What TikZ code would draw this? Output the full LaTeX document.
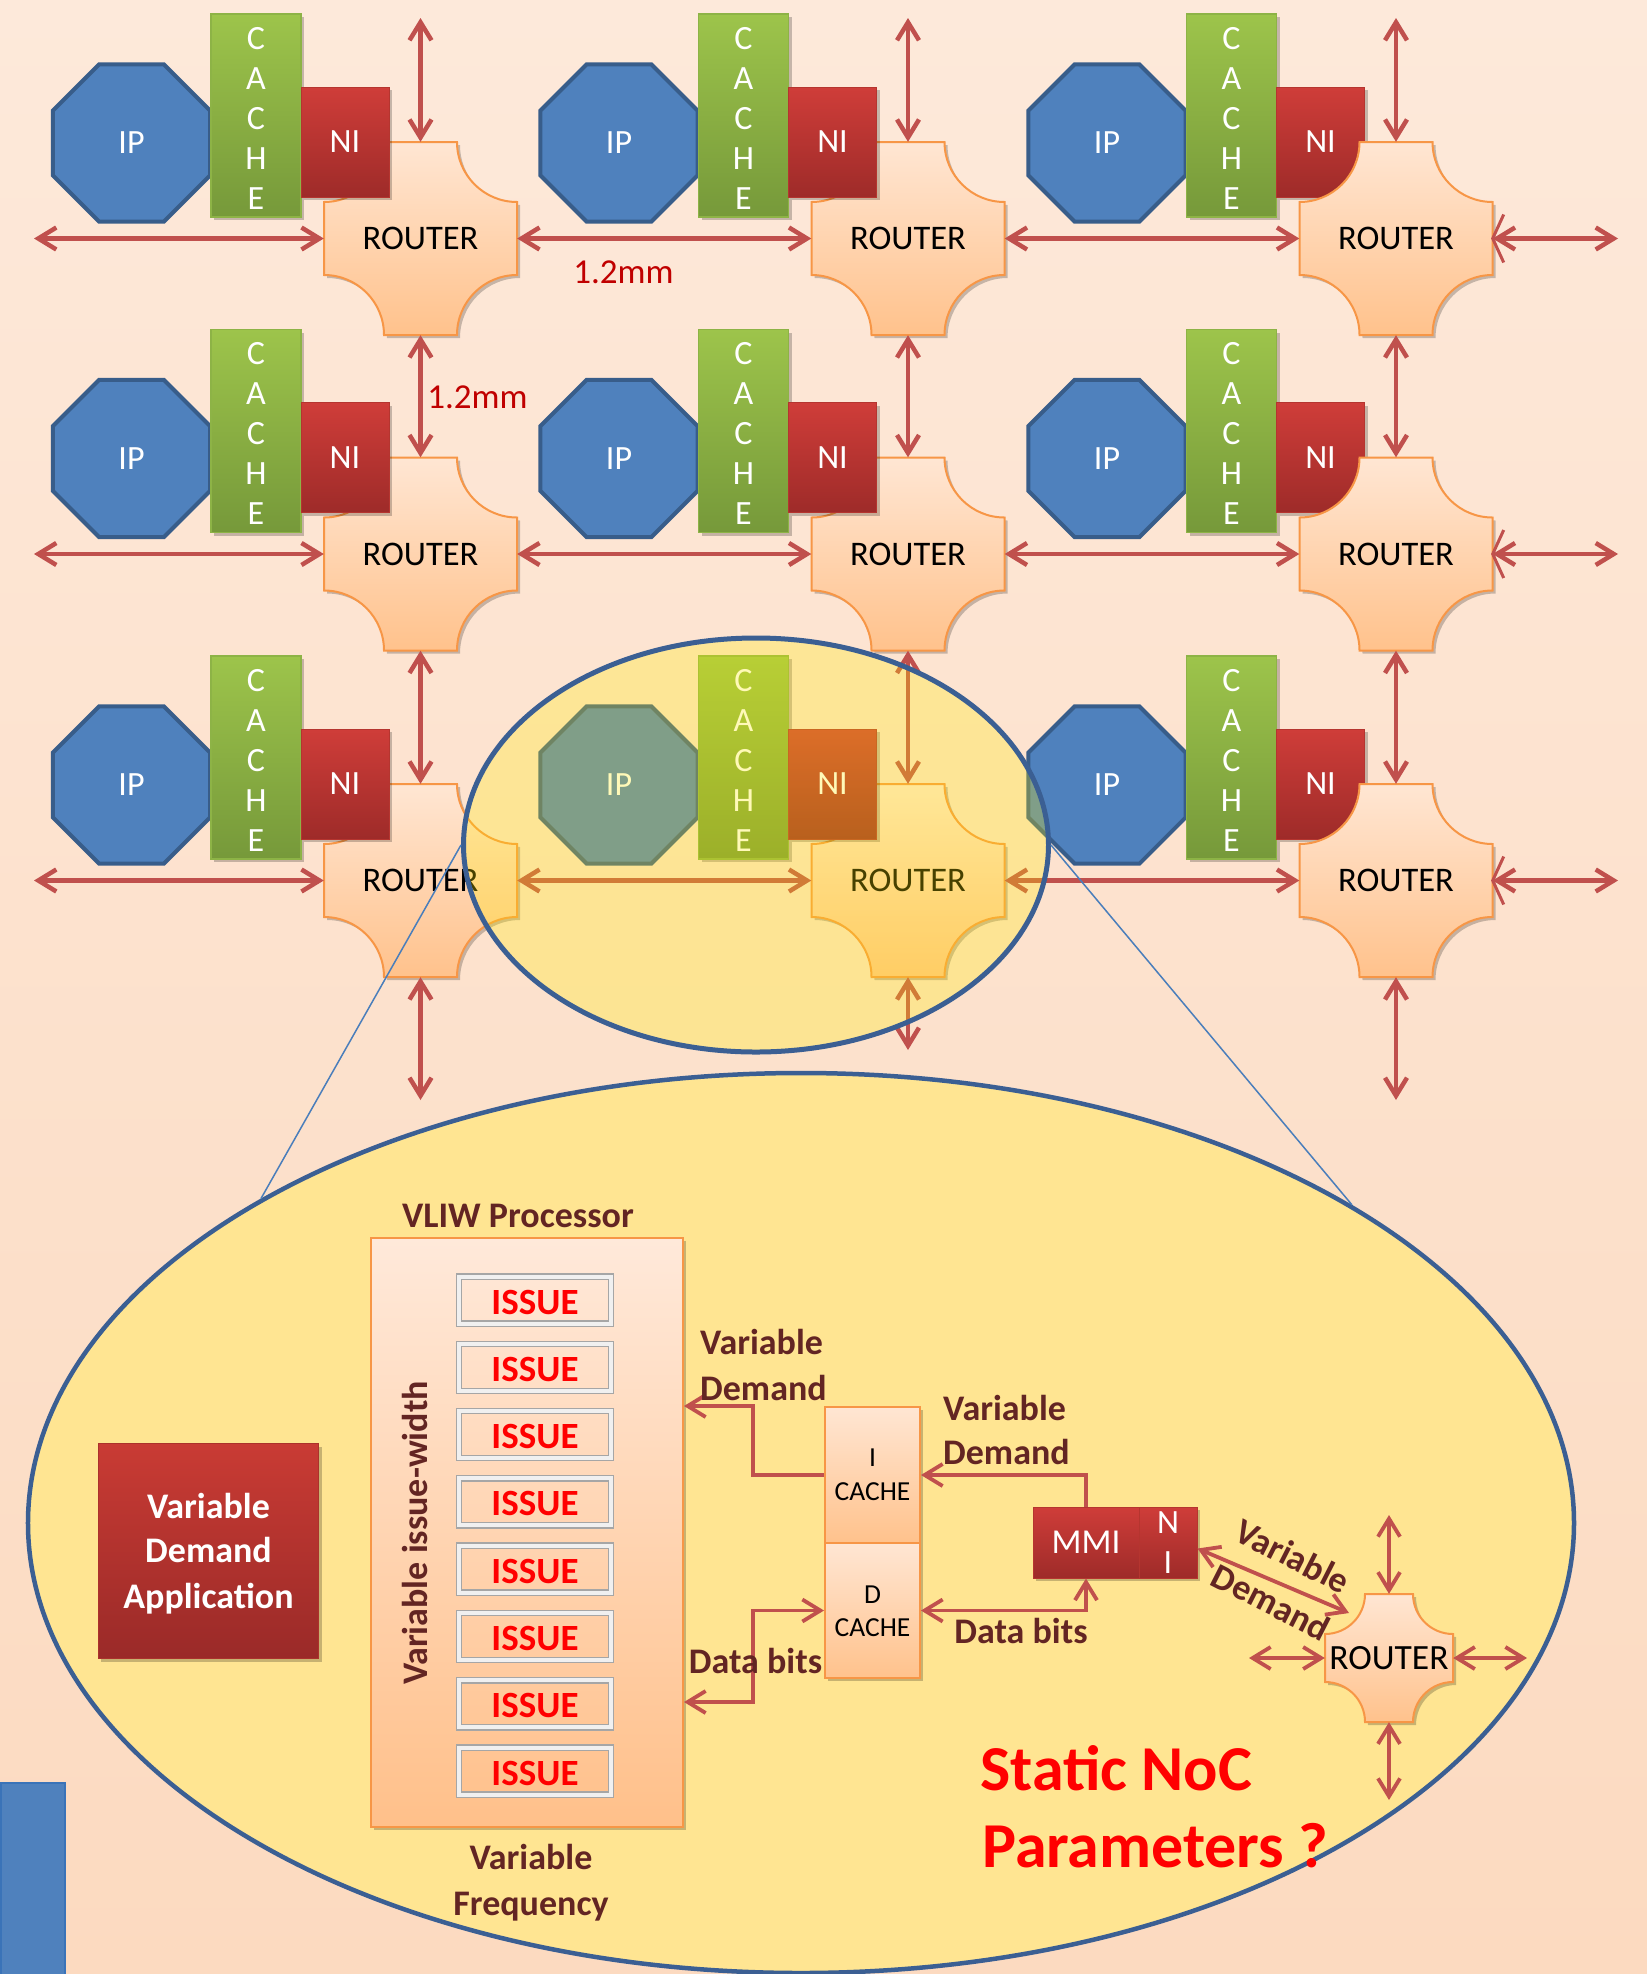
\documentclass[tikz,border=0pt]{standalone}
\usepackage{fontspec}
\setmainfont{Carlito}
\usetikzlibrary{arrows.meta,shadows,calc,shapes.geometric}
\definecolor{bgtop}{HTML}{FDE9DA}
\definecolor{bgbot}{HTML}{FCDAC0}
\definecolor{arr}{HTML}{C0504D}
\definecolor{ipfill}{HTML}{4F81BD}
\definecolor{ipline}{HTML}{385D8A}
\definecolor{cachetop}{HTML}{9DC44B}
\definecolor{cachebot}{HTML}{76993A}
\definecolor{cacheline}{HTML}{8DB346}
\definecolor{nitop}{HTML}{CF3D39}
\definecolor{nibot}{HTML}{9E2B29}
\definecolor{niline}{HTML}{B5352F}
\definecolor{rtop}{HTML}{FFE6D3}
\definecolor{rbot}{HTML}{FFC28C}
\definecolor{rline}{HTML}{F79646}
\definecolor{vtop}{HTML}{FFE9DA}
\definecolor{vbot}{HTML}{FFC08A}
\definecolor{ellline}{HTML}{3B5F93}
\definecolor{ellfill}{RGB}{255,236,0}
\definecolor{bigfill}{HTML}{FFE592}
\definecolor{brownc}{HTML}{632523}
\definecolor{mmred}{HTML}{C00000}
\definecolor{zline}{HTML}{4A7EBB}
\definecolor{apptop}{HTML}{C93B34}
\definecolor{appbot}{HTML}{9A2A28}
\definecolor{bluebox}{HTML}{4F81BD}
\definecolor{blueline}{HTML}{3A73B8}
\newcommand\fsz[2]{\fontsize{#1bp}{#2bp}\selectfont}
\newcommand\drawrouter[5]{%
  \pgfmathsetmacro\rA{#4-#5}\pgfmathsetmacro\rK{0.5523*#5}%
  \path[#1] (#2-\rA,#3-#4) -- (#2+\rA,#3-#4)
   .. controls (#2+\rA,#3-#4+\rK) and (#2+#4-\rK,#3-\rA) .. (#2+#4,#3-\rA)
   -- (#2+#4,#3+\rA)
   .. controls (#2+#4-\rK,#3+\rA) and (#2+\rA,#3+#4-\rK) .. (#2+\rA,#3+#4)
   -- (#2-\rA,#3+#4)
   .. controls (#2-\rA,#3+#4-\rK) and (#2-#4+\rK,#3+\rA) .. (#2-#4,#3+\rA)
   -- (#2-#4,#3-\rA)
   .. controls (#2-#4+\rK,#3-\rA) and (#2-\rA,#3-#4+\rK) .. cycle;}
\tikzset{
  bb/.tip={Straight Barb[length=18bp,width=22bp]},
  link/.style={draw=arr,line width=4.5bp,bb-bb},
  flow/.style={draw=arr,line width=3.8bp},
  sh/.style={drop shadow={shadow xshift=3bp,shadow yshift=-3bp,opacity=0.22,fill=black}},
  ipoct/.style={fill=ipfill,draw=ipline,line width=4bp,line join=miter},
  wtext/.style={text=white,font=\fsz{34}{40},inner sep=0pt},
  cachebox/.style={top color=cachetop,bottom color=cachebot,draw=cacheline,line width=1.5bp,minimum width=90bp,minimum height=203bp,inner sep=0pt,sh},
  nibox/.style={top color=nitop,bottom color=nibot,draw=niline,line width=1bp,minimum width=88bp,minimum height=110bp,inner sep=0pt,sh},
  rshape/.style={draw=rline,line width=2bp,top color=rtop,bottom color=rbot,sh},
  rbox/.style={inner sep=0pt,minimum width=193bp,minimum height=193bp},
  rtext/.style={font=\fsz{34.5}{40},inner sep=0pt},
  lblb/.style={font=\bfseries\fsz{36}{44},text=brownc,inner sep=0pt},
  issuebox/.style={draw=black!35,line width=1.3bp,double=black!6,double distance=4bp,minimum width=152bp,minimum height=47bp,inner sep=0pt},
  issuetext/.style={font=\bfseries\fsz{37}{40},inner sep=0pt},
  cbox/.style={draw=rline,line width=2bp,top color=rtop,bottom color=rbot,minimum width=95bp,inner sep=0pt,sh},
  mbox/.style={top color=nitop,bottom color=nibot,draw=niline,line width=1bp,inner sep=0pt,minimum height=71bp,sh},
  ctext/.style={font=\fsz{27.5}{34},inner sep=0pt},
}
\begin{document}
\begin{tikzpicture}[x=1bp,y=-1bp]
\useasboundingbox (0,0) rectangle (1647,1974);
\path[top color=bgtop,bottom color=bgbot] (0,0) rectangle (1647,1974);

% ---------- mesh tiles ----------
\foreach \c/\X in {1/420.5,2/908,3/1396}{
 \foreach \r/\Y in {1/238.5,2/554,3/880.5}{
  \begin{scope}[shift={(\X-289,\Y-95.5)}]
   \draw[ipoct] (22.5:85) -- (67.5:85) -- (112.5:85) -- (157.5:85) -- (202.5:85) -- (247.5:85) -- (292.5:85) -- (337.5:85) -- cycle;
  \end{scope}
  \node[wtext] (ip\c\r) at (\X-289,\Y-95.5) {IP};
  \node[cachebox] (ca\c\r) at (\X-164.5,\Y-123) {};
  \foreach \k/\L in {0/C,1/A,2/C,3/H,4/E}
    \node[wtext,anchor=base] at (\X-164.5,\Y-189.5+40*\k) {\L};
  \ifnum\c=3
    \node[nibox] (ni\c\r) at (\X-75.5,\Y-96.5) {};
    \node[wtext] at (\X-75.5,\Y-96.5) {NI};
    \drawrouter{rshape}{\X}{\Y}{96.5}{60}
    \node[rbox] (r\c\r) at (\X,\Y) {};
    \node[rtext] at (\X,\Y) {ROUTER};
  \else
    \drawrouter{rshape}{\X}{\Y}{96.5}{60}
    \node[rbox] (r\c\r) at (\X,\Y) {};
    \node[rtext] at (\X,\Y) {ROUTER};
    \node[nibox] (ni\c\r) at (\X-75.5,\Y-96.5) {};
    \node[wtext] at (\X-75.5,\Y-96.5) {NI};
  \fi
 }
}

% ---------- mesh links ----------
\foreach \r/\Y in {1/238.5,2/554,3/880.5}{
  \coordinate (le\r) at (34,\Y);
  \coordinate (re\r) at (1618,\Y);
  \draw[link] (le\r) -- (r1\r.west);
  \draw[link] (r1\r.east) -- (r2\r.west);
  \draw[link] (r2\r.east) -- (r3\r.west);
  \draw[link] (r3\r.east) -- (re\r);
  \draw[draw=arr,line width=3bp] ($(r3\r.east)+(11,-24)$) -- (r3\r.east) -- ($(r3\r.east)+(11,24)$);
}
\foreach \c/\X/\B in {1/420.5/1100,2/908/1050,3/1396/1100}{
  \coordinate (te\c) at (\X,18);
  \coordinate (be\c) at (\X,\B);
  \draw[link] (te\c) -- (r\c1.north);
  \draw[link] (r\c1.south) -- (r\c2.north);
  \draw[link] (r\c2.south) -- (r\c3.north);
  \draw[link] (r\c3.south) -- (be\c);
}

\node[font=\fsz{35}{40},text=mmred,inner sep=0pt] (d1) at (623.5,272) {1.2mm};
\node[font=\fsz{35}{40},text=mmred,inner sep=0pt] (d2) at (477.5,397) {1.2mm};

% ---------- zoom ellipses ----------
\node[ellipse,draw=ellline,line width=5bp,fill=ellfill,fill opacity=0.28,minimum width=585bp,minimum height=414bp,inner sep=0pt] (zs) at (756,845) {};
\node[ellipse,draw=ellline,line width=4.5bp,fill=bigfill,minimum width=1546bp,minimum height=900bp,inner sep=0pt] (zb) at (801,1523) {};
\draw[zline,line width=1.5bp] (zs.west) -- (zb.149.5);
\draw[zline,line width=1.5bp] (zs.east) -- (zb.30.5);

% ---------- blue box bottom-left ----------
\node[fill=bluebox,draw=blueline,line width=2bp,minimum width=64bp,minimum height=192bp,anchor=north west,inner sep=0pt] (bluer) at (0,1782) {};

% ---------- VLIW processor ----------
\node[lblb] (vt) at (518,1216) {VLIW Processor};
\node[draw=rline,line width=2bp,top color=vtop,bottom color=vbot,minimum width=312bp,minimum height=589bp,inner sep=0pt,sh] (vliw) at (527,1532.5) {};
\foreach \i in {0,...,7}{
  \node[issuebox] (is\i) at (535,{1300+67.3*\i}) {};
  \node[issuetext,text=red] (it\i) at (535,{1302+67.3*\i}) {ISSUE};
}
\node[lblb,rotate=90] (viw) at (414.5,1533) {Variable issue-width};
\node[lblb,anchor=base] (vf1) at (531,1869.6) {Variable};
\node[lblb,anchor=base] (vf2) at (531,1915.6) {Frequency};

% ---------- application box ----------
\node[top color=apptop,bottom color=appbot,draw=apptop!85!black,line width=1bp,minimum width=220bp,minimum height=215bp,inner sep=0pt,sh] (app) at (208.5,1551) {};
\node[lblb,text=white,anchor=base] at (208.5,1518.6) {Variable};
\node[lblb,text=white,anchor=base] at (208.5,1562.6) {Demand};
\node[lblb,text=white,anchor=base] at (208.5,1608.6) {Application};

% ---------- caches, MMI, NI ----------
\node[cbox,minimum height=136bp] (icache) at (872.5,1475) {};
\node[ctext,anchor=base] at (872.5,1466.7) {I};
\node[ctext,anchor=base] at (872.5,1500.7) {CACHE};
\node[cbox,minimum height=135bp] (dcache) at (872.5,1610.5) {};
\node[ctext,anchor=base] at (872.5,1603.7) {D};
\node[ctext,anchor=base] at (872.5,1636.7) {CACHE};
\node[mbox,minimum width=106bp] (mmi) at (1086,1542.5) {};
\node[wtext,font=\fsz{35}{40}] at (1086,1542.5) {MMI};
\node[mbox,minimum width=58bp] (ni2) at (1168,1542.5) {};
\node[wtext,anchor=base] at (1168,1533.6) {N};
\node[wtext,anchor=base] at (1168,1573.6) {I};

% ---------- small router ----------
\drawrouter{rshape}{1389}{1658}{64}{40}
\node[inner sep=0pt,minimum width=128bp,minimum height=128bp] (sr) at (1389,1658) {};
\node[font=\fsz{35.5}{40},inner sep=0pt] at (1389,1658) {ROUTER};

% ---------- flows ----------
\draw[flow,-bb] (icache.west) -- (753,1475) |- (vliw.east |- 0,1406);
\draw[flow,-bb] (mmi.north) |- (icache.east);
\draw[flow,bb-bb] (vliw.east |- 0,1702) -| (753,1610.5) -- (dcache.west);
\draw[flow,bb-bb] (dcache.east) -| (mmi.south);
\coordinate (dg) at (1349,1613);
\draw[flow,bb-bb] ($(ni2.east)+(0,6)$) -- (dg);
\coordinate (s1) at (1389,1515);
\coordinate (s2) at (1249,1658);
\coordinate (s3) at (1527,1658);
\coordinate (s4) at (1389,1800);
\draw[flow,bb-bb] (sr.north) -- (s1);
\draw[flow,bb-bb] (sr.west) -- (s2);
\draw[flow,bb-bb] (sr.east) -- (s3);
\draw[flow,bb-bb] (sr.south) -- (s4);

% ---------- labels ----------
\node[lblb,anchor=base west] at (700,1354.6) {Variable};
\node[lblb,anchor=base west] at (700,1400.6) {Demand};
\node[lblb,anchor=base west] at (943,1420.6) {Variable};
\node[lblb,anchor=base west] at (943,1464.6) {Demand};
\node[lblb,anchor=base] at (1021,1643) {Data bits};
\node[lblb,anchor=base] at (755.5,1673) {Data bits};
\node[lblb,rotate=-27] at (1293,1556) {Variable};
\node[lblb,rotate=-27] at (1271,1602) {Demand};
\node[font=\bfseries\fsz{64}{70},text=red,inner sep=0pt,anchor=base west] at (980,1790) {Static NoC};
\node[font=\bfseries\fsz{64}{70},text=red,inner sep=0pt,anchor=base west] at (982,1867) {Parameters ?};
\end{tikzpicture}
\end{document}
